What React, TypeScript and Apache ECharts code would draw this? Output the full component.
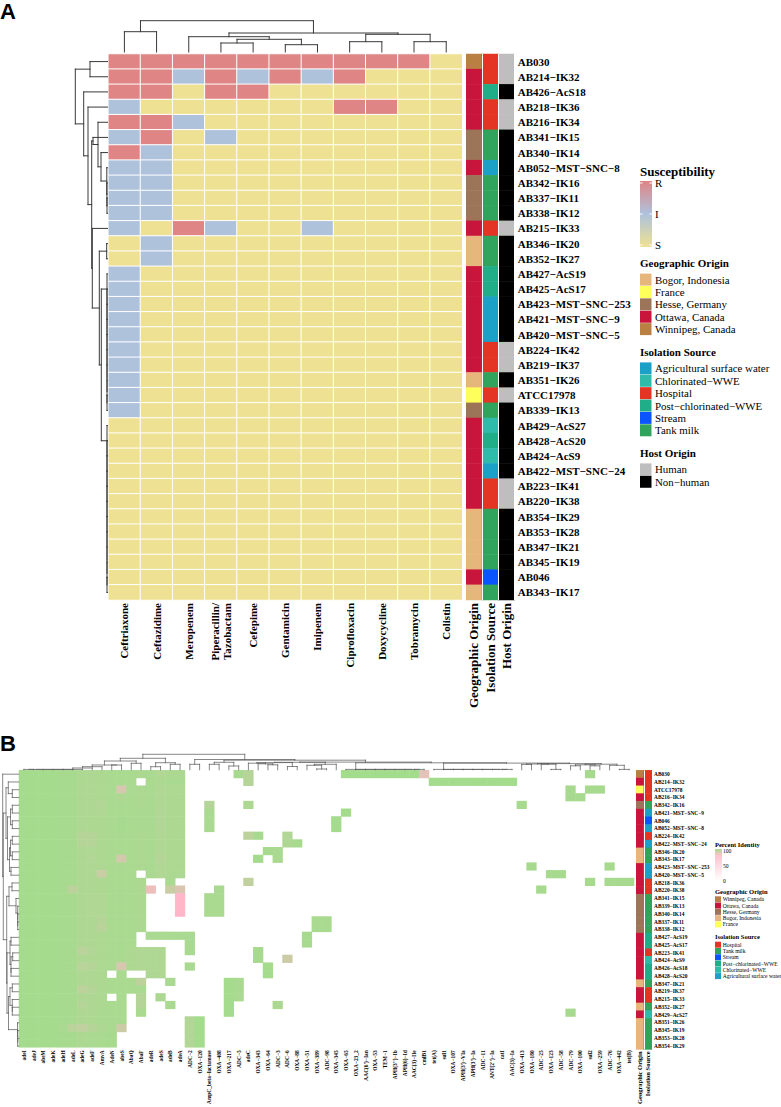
import React, { useEffect, useRef } from "react";
import * as echarts from "echarts";

const M = "\u2212";
const SERIF = '"Liberation Serif", "Times New Roman", serif';

// ---------- Panel A data ----------
const drugs = ["Ceftriaxone", "Ceftazidime", "Meropenem", "Piperacillin/\nTazobactam", "Cefepime", "Gentamicin", "Imipenem", "Ciprofloxacin", "Doxycycline", "Tobramycin", "Colistin"];
const isolatesA = ["AB030", `AB214${M}IK32`, `AB426${M}AcS18`, `AB218${M}IK36`, `AB216${M}IK34`, `AB341${M}IK15`, `AB340${M}IK14`, `AB052${M}MST${M}SNC${M}8`, `AB342${M}IK16`, `AB337${M}IK11`, `AB338${M}IK12`, `AB215${M}IK33`, `AB346${M}IK20`, `AB352${M}IK27`, `AB427${M}AcS19`, `AB425${M}AcS17`, `AB423${M}MST${M}SNC${M}253`, `AB421${M}MST${M}SNC${M}9`, `AB420${M}MST${M}SNC${M}5`, `AB224${M}IK42`, `AB219${M}IK37`, `AB351${M}IK26`, "ATCC17978", `AB339${M}IK13`, `AB429${M}AcS27`, `AB428${M}AcS20`, `AB424${M}AcS9`, `AB422${M}MST${M}SNC${M}24`, `AB223${M}IK41`, `AB220${M}IK38`, `AB354${M}IK29`, `AB353${M}IK28`, `AB347${M}IK21`, `AB345${M}IK19`, "AB046", `AB343${M}IK17`];
// 0 = S, 1 = I, 2 = R
const susceptibility = [
  [2, 2, 2, 2, 2, 2, 2, 2, 2, 2, 0],
  [2, 2, 1, 2, 1, 2, 1, 2, 0, 0, 0],
  [2, 2, 0, 2, 2, 0, 0, 0, 0, 0, 0],
  [1, 0, 0, 0, 0, 0, 0, 2, 2, 0, 0],
  [2, 2, 1, 0, 0, 0, 0, 0, 0, 0, 0],
  [1, 2, 0, 1, 0, 0, 0, 0, 0, 0, 0],
  [2, 1, 0, 0, 0, 0, 0, 0, 0, 0, 0],
  [1, 1, 0, 0, 0, 0, 0, 0, 0, 0, 0],
  [1, 1, 0, 0, 0, 0, 0, 0, 0, 0, 0],
  [1, 1, 0, 0, 0, 0, 0, 0, 0, 0, 0],
  [1, 1, 0, 0, 0, 0, 0, 0, 0, 0, 0],
  [1, 0, 2, 1, 0, 0, 1, 0, 0, 0, 0],
  [0, 1, 0, 0, 0, 0, 0, 0, 0, 0, 0],
  [0, 1, 0, 0, 0, 0, 0, 0, 0, 0, 0],
  [1, 0, 0, 0, 0, 0, 0, 0, 0, 0, 0],
  [1, 0, 0, 0, 0, 0, 0, 0, 0, 0, 0],
  [1, 0, 0, 0, 0, 0, 0, 0, 0, 0, 0],
  [1, 0, 0, 0, 0, 0, 0, 0, 0, 0, 0],
  [1, 0, 0, 0, 0, 0, 0, 0, 0, 0, 0],
  [1, 0, 0, 0, 0, 0, 0, 0, 0, 0, 0],
  [1, 0, 0, 0, 0, 0, 0, 0, 0, 0, 0],
  [1, 0, 0, 0, 0, 0, 0, 0, 0, 0, 0],
  [1, 0, 0, 0, 0, 0, 0, 0, 0, 0, 0],
  [1, 0, 0, 0, 0, 0, 0, 0, 0, 0, 0],
  [0, 0, 0, 0, 0, 0, 0, 0, 0, 0, 0],
  [0, 0, 0, 0, 0, 0, 0, 0, 0, 0, 0],
  [0, 0, 0, 0, 0, 0, 0, 0, 0, 0, 0],
  [0, 0, 0, 0, 0, 0, 0, 0, 0, 0, 0],
  [0, 0, 0, 0, 0, 0, 0, 0, 0, 0, 0],
  [0, 0, 0, 0, 0, 0, 0, 0, 0, 0, 0],
  [0, 0, 0, 0, 0, 0, 0, 0, 0, 0, 0],
  [0, 0, 0, 0, 0, 0, 0, 0, 0, 0, 0],
  [0, 0, 0, 0, 0, 0, 0, 0, 0, 0, 0],
  [0, 0, 0, 0, 0, 0, 0, 0, 0, 0, 0],
  [0, 0, 0, 0, 0, 0, 0, 0, 0, 0, 0],
  [0, 0, 0, 0, 0, 0, 0, 0, 0, 0, 0],
];
const susceptibilityColors = ["#EFE193", "#AEC2DC", "#DF8585"];

const annotationNames = ["Geographic Origin", "Isolation Source", "Host Origin"];
const geoNames = ["Bogor, Indonesia", "France", "Hesse, Germany", "Ottawa, Canada", "Winnipeg, Canada"];
const geoColors = ["#E7B67C", "#FFFF5C", "#9C7559", "#C9143C", "#BA7F42"];
const isoNames = ["Agricultural surface water", "Chlorinated" + M + "WWE", "Hospital", "Post" + M + "chlorinated" + M + "WWE", "Stream", "Tank milk"];
const isoColors = ["#1BA1C8", "#2EBBA9", "#E43423", "#1FAE88", "#0A55FF", "#30A45C"];
const hostNames = ["Human", "Non" + M + "human"];
const hostColors = ["#BEBEBE", "#000000"];

// indices into geoNames / isoNames / hostNames, one per isolate of panel A
const geoA = [4, 3, 3, 3, 3, 2, 2, 3, 2, 2, 2, 3, 0, 0, 3, 3, 3, 3, 3, 3, 3, 0, 1, 2, 3, 3, 3, 3, 3, 3, 0, 0, 0, 0, 3, 0];
const isoA = [2, 2, 3, 2, 2, 5, 5, 0, 5, 5, 5, 2, 5, 5, 3, 3, 0, 0, 0, 2, 2, 5, 2, 5, 1, 3, 1, 0, 2, 2, 5, 5, 5, 5, 4, 5];
const hostA = [0, 0, 1, 0, 0, 1, 1, 1, 1, 1, 1, 0, 1, 1, 1, 1, 1, 1, 1, 0, 0, 1, 0, 1, 1, 1, 1, 1, 0, 0, 1, 1, 1, 1, 1, 1];

// Dendrograms as nested [height, left, right]; a bare number is a leaf index.
type Tree = number | [number, Tree, Tree];
const drugTree: Tree = [31.3, [20.3, 0, 1], [19, [15.3, 2, [12.7, [9, 3, 4], [7.3, 5, 6]]], [17.7, [10.3, 7, 8], [10.3, 9, 10]]]];
const isolateTreeA: Tree = [32.2, [17.5, 0, 1], [23.8, 2, [19.5, 3, [15.8,
  [14.5, 5, [9.5, 4, [6.5, 6, [0.7, 7, [0.6, 8, [0.5, 9, 10]]]]]],
  [15.2, 11, [8.2, [0.8, 12, 13], [6.2,
    [0.5, 14, [0.5, 15, [0.5, 16, [0.5, 17, [0.5, 18, [0.5, 19, [0.5, 20, [0.5, 21, [0.5, 22, 23]]]]]]]]],
    [0.5, 24, [0.5, 25, [0.5, 26, [0.5, 27, [0.5, 28, [0.5, 29, [0.5, 30, [0.5, 31, [0.5, 32, [0.5, 33, [0.5, 34, 35]]]]]]]]]]],
  ]]],
]]]];

// ---------- Panel B data ----------
const genes = ["adeI", "adeJ", "abeM", "adeK", "adeH", "adeL", "adeG", "adeF", "AmvA", "AdeN", "abeS", "AbaQ", "AbaF", "adeR", "adeS", "adeB", "adeA", `ADC${M}2`, `OXA${M}120`, `AmpC_beta${M}lactamase`, `OXA${M}408`, `OXA${M}217`, `ADC${M}5`, "adeC", `OXA${M}343`, `OXA${M}64`, `ADC${M}3`, `ADC${M}6`, `OXA${M}88`, `OXA${M}51`, `OXA${M}389`, `ADC${M}98`, `OXA${M}345`, `OXA${M}65`, `OXA${M}23_2`, `AAC(6')${M}Ian`, `OXA${M}53`, `TEM${M}1`, `APH(3'')${M}Ib`, `APH(6)${M}Id`, `AAC(3)${M}IIe`, "cmlB1", "tet(A)", "sul1", `OXA${M}107`, `APH(3')${M}VIa`, `APH(3')${M}Ia`, `ADC${M}11`, `ANT(2'')${M}Ia`, "catI", `AAC(3)${M}Ia`, `OXA${M}413`, `OXA${M}180`, `ADC${M}25`, `OXA${M}123`, `ADC${M}58`, `ADC${M}79`, `OXA${M}100`, "sul2", `OXA${M}259`, `ADC${M}76`, `OXA${M}442`, "tet(B)"];
const isolatesB = ["AB030", `AB214${M}IK32`, "ATCC17978", `AB216${M}IK34`, `AB342${M}IK16`, `AB421${M}MST${M}SNC${M}9`, "AB046", `AB052${M}MST${M}SNC${M}8`, `AB224${M}IK42`, `AB422${M}MST${M}SNC${M}24`, `AB346${M}IK20`, `AB343${M}IK17`, `AB423${M}MST${M}SNC${M}253`, `AB420${M}MST${M}SNC${M}5`, `AB218${M}IK36`, `AB220${M}IK38`, `AB341${M}IK15`, `AB339${M}IK13`, `AB340${M}IK14`, `AB337${M}IK11`, `AB338${M}IK12`, `AB427${M}AcS19`, `AB425${M}AcS17`, `AB223${M}IK41`, `AB424${M}AcS9`, `AB426${M}AcS18`, `AB428${M}AcS20`, `AB347${M}IK21`, `AB219${M}IK37`, `AB215${M}IK33`, `AB352${M}IK27`, `AB429${M}AcS27`, `AB351${M}IK26`, `AB345${M}IK19`, `AB353${M}IK28`, `AB354${M}IK29`];
const geoB = [4, 3, 1, 3, 2, 3, 3, 3, 3, 3, 0, 0, 3, 3, 3, 3, 2, 2, 2, 2, 2, 3, 3, 3, 3, 3, 3, 0, 3, 3, 0, 3, 0, 0, 0, 0];
const isoB = [2, 2, 2, 2, 5, 0, 4, 0, 2, 0, 5, 5, 0, 0, 2, 2, 5, 5, 5, 5, 5, 3, 3, 2, 1, 3, 3, 5, 2, 2, 5, 1, 5, 5, 5, 5];
// percent identity of the 17 core genes (0 = not detected), one row per isolate
const coreIdentity = [
  [99, 99, 99, 99, 98, 98, 95, 94, 95, 97, 97, 97, 95, 96, 93, 95, 95],
  [99, 99, 99, 99, 98, 98, 95, 94, 95, 97, 97, 97, 0, 97, 95, 96, 96],
  [99, 99, 99, 99, 98, 98, 94, 94, 95, 97, 72, 96, 95, 96, 93, 95, 95],
  [99, 99, 99, 99, 98, 98, 94, 94, 95, 97, 94, 97, 95, 96, 93, 95, 95],
  [99, 99, 99, 99, 98, 98, 94, 94, 92, 97, 97, 97, 95, 96, 93, 95, 95],
  [99, 99, 99, 99, 98, 98, 94, 94, 93, 97, 97, 97, 96, 96, 92, 95, 95],
  [99, 99, 99, 99, 98, 98, 94, 95, 95, 97, 98, 97, 96, 96, 92, 95, 95],
  [99, 99, 99, 99, 98, 98, 94, 95, 95, 97, 98, 97, 96, 96, 92, 95, 95],
  [99, 99, 99, 99, 98, 98, 90, 90, 95, 97, 97, 97, 95, 96, 93, 95, 95],
  [99, 99, 99, 99, 98, 98, 90, 90, 95, 97, 97, 97, 95, 96, 93, 95, 95],
  [99, 99, 99, 99, 98, 98, 94, 94, 95, 97, 97, 97, 95, 96, 93, 95, 95],
  [99, 99, 99, 99, 98, 98, 94, 92, 95, 97, 74, 97, 95, 96, 90, 95, 95],
  [99, 99, 99, 99, 98, 98, 94, 94, 94, 97, 97, 97, 95, 96, 93, 95, 95],
  [99, 99, 99, 99, 98, 98, 94, 94, 80, 97, 97, 97, 0, 96, 93, 95, 95],
  [99, 99, 99, 99, 98, 98, 94, 94, 95, 97, 97, 97, 95, 0, 0, 96, 0],
  [99, 99, 99, 99, 98, 86, 94, 94, 95, 97, 97, 97, 95, 60, 0, 80, 70],
  [99, 99, 99, 99, 98, 98, 94, 93, 93, 97, 97, 97, 95, 0, 0, 0, 50],
  [99, 99, 99, 99, 98, 98, 94, 93, 93, 97, 97, 97, 95, 0, 0, 0, 50],
  [99, 99, 99, 99, 98, 98, 94, 93, 93, 97, 97, 97, 95, 0, 0, 0, 50],
  [99, 99, 99, 99, 98, 98, 94, 94, 90, 97, 97, 97, 95, 0, 0, 0, 0],
  [99, 99, 99, 99, 98, 98, 94, 94, 88, 97, 97, 97, 95, 0, 0, 0, 0],
  [99, 99, 99, 99, 98, 98, 94, 94, 95, 97, 97, 97, 0, 96, 96, 96, 96],
  [99, 99, 99, 99, 98, 98, 94, 94, 95, 97, 97, 97, 0, 0, 0, 0, 0],
  [99, 99, 99, 99, 98, 98, 87, 92, 95, 97, 97, 95, 93, 94, 94, 0, 0],
  [99, 99, 99, 99, 98, 98, 94, 94, 95, 97, 97, 95, 93, 94, 94, 0, 0],
  [99, 99, 99, 99, 98, 98, 88, 90, 95, 97, 72, 95, 93, 94, 94, 0, 0],
  [99, 99, 99, 99, 98, 98, 94, 94, 95, 0, 97, 0, 0, 94, 94, 0, 0],
  [99, 99, 99, 99, 98, 98, 94, 94, 95, 97, 97, 97, 86, 0, 0, 96, 0],
  [99, 99, 99, 99, 98, 98, 86, 90, 95, 97, 97, 97, 96, 0, 0, 0, 0],
  [99, 99, 99, 99, 98, 98, 94, 94, 95, 0, 97, 0, 90, 0, 95, 0, 0],
  [99, 99, 99, 99, 98, 98, 90, 94, 95, 97, 97, 0, 90, 0, 0, 96, 0],
  [99, 99, 99, 99, 98, 98, 94, 94, 96, 97, 97, 0, 97, 0, 0, 0, 0],
  [99, 99, 99, 99, 98, 97, 94, 95, 97, 97, 97, 0, 0, 0, 0, 0, 0],
  [99, 99, 99, 99, 96, 88, 84, 90, 94, 97, 78, 0, 0, 0, 0, 0, 0],
  [99, 99, 99, 99, 98, 98, 95, 96, 97, 98, 0, 0, 0, 0, 0, 0, 0],
  [99, 99, 99, 99, 98, 98, 95, 96, 97, 98, 0, 0, 0, 0, 0, 0, 0],
];
// [row, gene column, percent identity] of the scattered accessory genes
const accessoryIdentity: [number, number, number][] = [
  [21, 17, 96], [22, 17, 96], [23, 17, 96], [25, 17, 96], [32, 17, 92], [33, 17, 92], [34, 17, 92], [35, 17, 92],
  [32, 18, 100], [33, 18, 100], [34, 18, 100], [35, 18, 100],
  [4, 19, 90], [5, 19, 96], [6, 19, 96], [7, 19, 96], [16, 19, 97], [17, 19, 97], [18, 19, 97],
  [15, 20, 97], [16, 20, 97], [17, 20, 97], [18, 20, 97],
  [27, 21, 99], [28, 21, 99], [29, 21, 99], [30, 21, 99], [31, 21, 99],
  [0, 22, 98], [27, 22, 96], [28, 22, 96], [29, 22, 96],
  [0, 23, 90], [1, 23, 90], [4, 23, 95], [8, 23, 86], [14, 23, 84],
  [8, 24, 98], [11, 24, 99], [23, 24, 98], [24, 24, 98],
  [10, 25, 98], [25, 25, 99], [26, 25, 99],
  [10, 26, 97], [11, 26, 97], [30, 26, 95],
  [8, 27, 92], [9, 27, 94], [24, 27, 78],
  [9, 28, 98],
  [21, 29, 98], [22, 29, 98],
  [19, 30, 97], [20, 30, 97], [19, 31, 97], [20, 31, 97],
  [6, 32, 99], [7, 32, 99],
  [0, 33, 100], [5, 33, 99],
  [0, 34, 100], [0, 35, 100], [0, 36, 100], [0, 37, 100], [0, 38, 100], [0, 39, 100], [0, 40, 100],
  [0, 41, 64],
  [1, 42, 100], [1, 43, 100], [1, 44, 100], [1, 45, 100], [1, 46, 100], [1, 47, 100], [1, 48, 100], [1, 49, 100], [1, 50, 100],
  [4, 51, 98], [12, 52, 98], [15, 53, 98],
  [13, 54, 98], [13, 55, 98],
  [2, 56, 98], [3, 56, 98], [31, 56, 98], [3, 57, 98],
  [0, 58, 98], [2, 58, 98], [14, 58, 98], [2, 59, 98],
  [12, 60, 98], [14, 60, 98], [14, 61, 98], [14, 62, 98],
];
const identityLegendTicks = ["100", "50", "0"];
const geoOrderB = [4, 3, 2, 0, 1];
const isoOrderB = [2, 5, 4, 3, 1, 0];

const geneTree: Tree = [15.5,
  [11.5,
    [8.8, [4.8, [3.1, [1.8, [0.4, [0.4, [0.4, [0.4, [0.4, [0.4, 0, 1], 2], 3], 4], 5], 6], 7], 8], [4.8, 9, 10]], [6.5, 11, 12]],
    [7.1, [3.1, 13, 14], [5.5, 15, 16]],
  ],
  [10.3, [5.5, 17, 18], [9.6,
    [7.5, [5.5, 19, 20], [3.8, 21, 22]],
    [7.7,
      [7.5, [7.2, [6.6, 23, [6, 24, [5, 25, 26]]], [3.3, 27, 28]], [5.5, [4.5, 29, [0.8, 30, 31]], 32]],
      [7, [0.4, 33, [0.4, 34, [0.4, 35, [0.4, 36, [0.4, 37, [0.4, 38, [0.4, 39, [0.4, 40, 41]]]]]]]],
        [6.7, [0.4, 42, [0.4, 43, [0.4, 44, [0.4, 45, [0.4, 46, [0.4, 47, [0.4, 48, [0.4, 49, 50]]]]]]]],
          [6.2, [5.8, [5.4, 51, 52], [5.6, 53, [0.4, 54, 55]]], [5.6, [5, [4, 56, 57], [4, 58, 59]], [4.5, 60, [0.4, 61, 62]]]],
        ],
      ],
    ],
  ]],
];
const isolateTreeB: Tree = [16, 0, [15.4,
  [12.7, [10.4, 1, [6.4, 2, 3]], [11.2, [8.2, [6.4, 4, 5], [6.4, 6, 7]], [9.2, [8.2, [6.4, 8, 9], [6.4, 10, 11]], [7.7, 12, 13]]]],
  [12,
    [9.7, [6.7, 14, 15], [2.7, 16, [1, 17, [1, 18, [1, 19, 20]]]]],
    [11.7,
      [8.7, [7.7, 21, 22], [7.7, [6, 23, 24], [7.7, 25, 26]]],
      [10.2, [8.7, [6.4, 27, 28], [6.4, 29, [6.4, 30, 31]]], [1.2, 32, [1, 33, [1, 34, 35]]]],
    ],
  ],
]];

// ---------- helpers ----------
function treeSegments(tree: Tree, horizontal: boolean): number[][] {
  const segs: number[][] = [];
  const walk = (t: Tree): [number, number] => {
    if (typeof t === "number") return [t + 0.5, 0];
    const [h, l, r] = t;
    const a = walk(l);
    const b = walk(r);
    const add = (p1: number, h1: number, p2: number, h2: number) =>
      segs.push(horizontal ? [h1, p1, h2, p2] : [p1, h1, p2, h2]);
    add(a[0], a[1], a[0], h);
    add(b[0], b[1], b[0], h);
    add(a[0], h, b[0], h);
    return [(a[0] + b[0]) / 2, h];
  };
  walk(tree);
  return segs;
}

const dendroSeries = (data: number[][], axis: number, stroke: string, lineWidth: number) => ({
  type: "custom",
  xAxisIndex: axis,
  yAxisIndex: axis,
  silent: true,
  clip: false,
  coordinateSystem: "cartesian2d",
  encode: { x: [0, 2], y: [1, 3] },
  data,
  renderItem: (_: any, api: any) => {
    const a = api.coord([api.value(0), api.value(1)]);
    const b = api.coord([api.value(2), api.value(3)]);
    return {
      type: "line",
      shape: { x1: a[0], y1: a[1], x2: b[0], y2: b[1] },
      style: { stroke, lineWidth, lineCap: "square" },
    };
  },
});

const hiddenCat = (data: string[], extra: any = {}) => ({
  type: "category",
  data,
  axisLine: { show: false },
  axisTick: { show: false },
  axisLabel: { show: false },
  splitLine: { show: false },
  ...extra,
});
const labelCat = (data: string[], fontSize: number, margin: number, extra: any = {}, labelExtra: any = {}) => ({
  type: "category",
  data,
  axisLine: { show: false },
  axisTick: { show: false },
  splitLine: { show: false },
  axisLabel: { show: true, interval: 0, fontFamily: SERIF, fontWeight: "bold", fontSize, margin, color: "#000", ...labelExtra },
  ...extra,
});
const hiddenVal = (min: number, max: number, inverse = false) => ({
  type: "value",
  min,
  max,
  inverse,
  show: false,
});

const txt = (x: number, y: number, text: string, font: string, extra: any = {}) => ({
  type: "text",
  x,
  y,
  silent: true,
  z: 20,
  style: { text, font, fill: "#000", verticalAlign: "middle", align: "left", ...extra },
});
const box = (x: number, y: number, width: number, height: number, fill: any) => ({
  type: "rect",
  x,
  y,
  silent: true,
  z: 19,
  shape: { x: 0, y: 0, width, height },
  style: { fill },
});

function buildGraphics() {
  const g: any[] = [];
  g.push(txt(0, 11, "A", 'bold 22px "Liberation Sans", Arial, sans-serif'));
  g.push(txt(0, 743, "B", 'bold 22px "Liberation Sans", Arial, sans-serif'));

  // Panel A legends
  const ba = `bold 13px ${SERIF}`;
  const bb = `bold 11px ${SERIF}`;
  const rg = `10.9px ${SERIF}`;
  g.push(txt(640, 171, "Susceptibility", ba));
  g.push(box(640, 181, 12, 66, new echarts.graphic.LinearGradient(0, 0, 0, 1, [
    { offset: 0, color: susceptibilityColors[2] },
    { offset: 0.5, color: susceptibilityColors[1] },
    { offset: 1, color: susceptibilityColors[0] },
  ])));
  [["R", 183], ["I", 214], ["S", 245]].forEach(([t, y]) => {
    g.push(box(640, (y as number) - 0.5, 2.5, 1, "#fff"));
    g.push(box(649.5, (y as number) - 0.5, 2.5, 1, "#fff"));
    g.push(txt(655, y as number, t as string, rg));
  });
  const legendA = (title: string, titleY: number, firstY: number, names: string[], colors: string[]) => {
    g.push(txt(640, titleY, title, bb));
    names.forEach((n, i) => {
      const y = firstY + i * 12.38;
      g.push(box(640, y - 6, 11.5, 12, colors[i]));
      g.push(txt(655, y, n, rg));
    });
  };
  legendA("Geographic Origin", 262.7, 279.6, geoNames, geoColors);
  legendA("Isolation Source", 351.7, 368.4, isoNames, isoColors);
  legendA("Host Origin", 452.7, 469.4, hostNames, hostColors);

  // Panel B legends
  const bbB = `bold 6.5px ${SERIF}`;
  const rgB = `5.6px ${SERIF}`;
  g.push(txt(715, 844, "Percent Identity", bbB));
  g.push(box(715, 849, 7, 32, new echarts.graphic.LinearGradient(0, 0, 0, 1, [
    { offset: 0, color: "#A3DC8C" },
    { offset: 0.1, color: "#D8CDAE" },
    { offset: 0.22, color: "#FFC4D0" },
    { offset: 1, color: "#FFFFFF" },
  ])));
  identityLegendTicks.forEach((t, i) => g.push(txt(723, [851, 866, 881][i], t, rgB)));
  const legendB = (title: string, titleY: number, firstY: number, order: number[], names: string[], colors: string[]) => {
    g.push(txt(715, titleY, title, bbB));
    order.forEach((k, i) => {
      const y = firstY + i * 6.28;
      g.push(box(715, y - 3, 6, 6, colors[k]));
      g.push(txt(722.7, y, names[k], rgB));
    });
  };
  legendB("Geographic Origin", 891, 899.3, geoOrderB, geoNames, geoColors);
  legendB("Isolation Source", 936.7, 944.7, isoOrderB, isoNames, isoColors);
  return g;
}

function buildOption() {
  const suscData: number[][] = [];
  susceptibility.forEach((row, r) => row.forEach((v, c) => suscData.push([c, r, v])));

  const geoOffset = 0;
  const isoOffset = geoColors.length;
  const hostOffset = isoOffset + isoColors.length;
  const annotationPalette = [...geoColors, ...isoColors, ...hostColors];
  const annA: number[][] = [];
  isolatesA.forEach((_, r) => {
    annA.push([0, r, geoA[r] + geoOffset]);
    annA.push([1, r, isoA[r] + isoOffset]);
    annA.push([2, r, hostA[r] + hostOffset]);
  });
  const annB: number[][] = [];
  isolatesB.forEach((_, r) => {
    annB.push([0, r, geoB[r] + geoOffset]);
    annB.push([1, r, isoB[r] + isoOffset]);
  });

  const identityData: number[][] = [];
  coreIdentity.forEach((row, r) => row.forEach((v, c) => {
    if (v > 0) identityData.push([c, r, v]);
  }));
  accessoryIdentity.forEach(([r, c, v]) => identityData.push([c, r, v]));

  const annotationPieces = annotationPalette.map((color, i) => ({ value: i, color }));
  const whiteSplit = { show: true, interval: 0, lineStyle: { color: "#fff", width: 1 } };

  return {
    animation: false,
    backgroundColor: "#fff",
    grid: [
      { left: 108.3, top: 54, width: 354, height: 546 },
      { left: 465.7, top: 54, width: 49, height: 546 },
      { left: 108.3, top: 12, width: 354, height: 40 },
      { left: 67.5, top: 54, width: 40, height: 546 },
      { left: 19, top: 770.3, width: 615, height: 279.7 },
      { left: 635.7, top: 770.3, width: 16.3, height: 279.7 },
      { left: 19, top: 749.8, width: 615, height: 20 },
      { left: 0, top: 770.3, width: 18.7, height: 279.7 },
    ],
    xAxis: [
      labelCat(drugs, 11, 3, { gridIndex: 0 }, { rotate: 90, lineHeight: 12 }),
      labelCat(annotationNames, 13, 3, { gridIndex: 1, z: 5, splitLine: whiteSplit }, { rotate: 90 }),
      { ...hiddenVal(0, drugs.length), gridIndex: 2 },
      { ...hiddenVal(0, 40, true), gridIndex: 3 },
      labelCat(genes, 5.4, 3, { gridIndex: 4 }, { rotate: 90 }),
      labelCat(annotationNames.slice(0, 2), 6.5, 2, { gridIndex: 5, z: 5, splitLine: whiteSplit }, { rotate: 90 }),
      { ...hiddenVal(0, genes.length), gridIndex: 6 },
      { ...hiddenVal(0, 18.7, true), gridIndex: 7 },
    ],
    yAxis: [
      hiddenCat(isolatesA, { gridIndex: 0, inverse: true }),
      labelCat(isolatesA, 11, 3, { gridIndex: 1, inverse: true, position: "right" }),
      { ...hiddenVal(0, 40), gridIndex: 2 },
      { ...hiddenVal(0, isolatesA.length, true), gridIndex: 3 },
      hiddenCat(isolatesB, { gridIndex: 4, inverse: true }),
      labelCat(isolatesB, 5.4, 2, { gridIndex: 5, inverse: true, position: "right" }),
      { ...hiddenVal(0, 20), gridIndex: 6 },
      { ...hiddenVal(0, isolatesB.length, true), gridIndex: 7 },
    ],
    visualMap: [
      {
        show: false, type: "piecewise", seriesIndex: 0, dimension: 2,
        pieces: susceptibilityColors.map((color, i) => ({ value: i, color })),
      },
      { show: false, type: "piecewise", seriesIndex: [1, 3], dimension: 2, pieces: annotationPieces },
      {
        show: false, type: "continuous", seriesIndex: 2, dimension: 2, min: 0, max: 100,
        inRange: { color: ["#FFFFFF", "#FFB6C8", "#A3DC8C"] },
      },
    ],
    series: [
      {
        type: "heatmap", xAxisIndex: 0, yAxisIndex: 0, data: suscData, silent: true,
        itemStyle: { borderColor: "#fff", borderWidth: 1 },
      },
      { type: "heatmap", xAxisIndex: 1, yAxisIndex: 1, data: annA, silent: true },
      { type: "heatmap", xAxisIndex: 4, yAxisIndex: 4, data: identityData, silent: true },
      { type: "heatmap", xAxisIndex: 5, yAxisIndex: 5, data: annB, silent: true },
      dendroSeries(treeSegments(drugTree, false), 2, "#3a3a3a", 1),
      dendroSeries(treeSegments(isolateTreeA, true), 3, "#3a3a3a", 1),
      dendroSeries(treeSegments(geneTree, false), 6, "#555", 0.7),
      dendroSeries(treeSegments(isolateTreeB, true), 7, "#555", 0.7),
    ],
    graphic: { elements: buildGraphics() },
  };
}

export default function App() {
  const ref = useRef<HTMLDivElement>(null);
  useEffect(() => {
    const chart = echarts.init(ref.current!, null, { renderer: "svg" });
    chart.setOption(buildOption() as any);
    return () => chart.dispose();
  }, []);
  return <div ref={ref} style={{ position: "absolute", left: 0, top: 0, width: 781, height: 1107 }} />;
}
